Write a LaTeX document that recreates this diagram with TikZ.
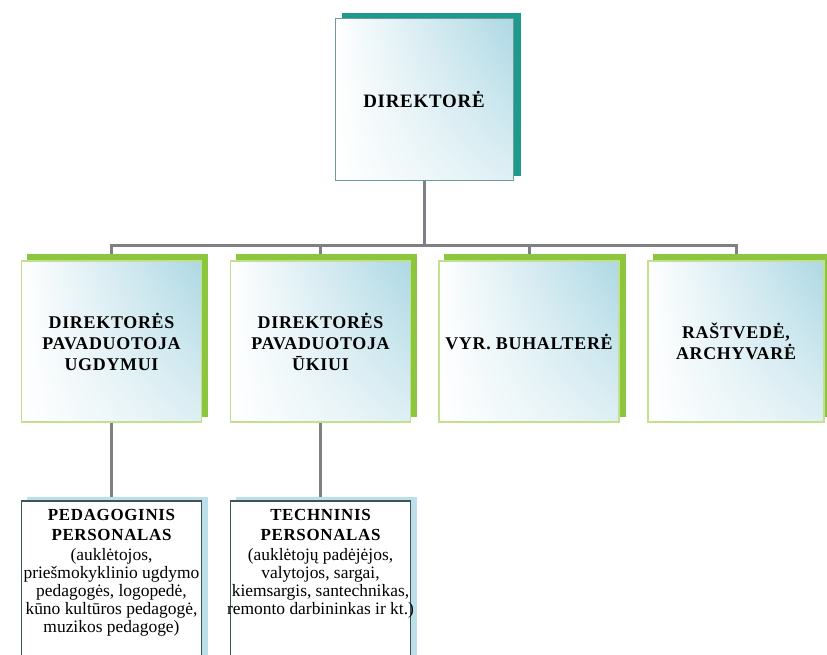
\documentclass[tikz,border=0pt]{standalone}
\usepackage{fontspec}
\setmainfont{Liberation Serif}
\newfontfamily\hdfont[LetterSpace=4]{Liberation Serif}
\usetikzlibrary{backgrounds,shadings}
\definecolor{tealsh}{HTML}{1E9A8C}
\definecolor{greensh}{HTML}{8CC63F}
\definecolor{greenborder}{HTML}{C3DF90}
\definecolor{blueshade}{HTML}{ADD8E4}
\definecolor{topborder}{HTML}{6E9C9C}
\definecolor{bluesh}{HTML}{BCDFEA}
\definecolor{lowborder}{HTML}{3E5558}
\definecolor{linegray}{HTML}{7F7F86}
\begin{document}
\begin{tikzpicture}[x=1bp,y=-1bp,
  conn/.style={draw=linegray, line width=3bp},
  gradbox/.style={rectangle, shade, upper left=white, upper right=blueshade,
    lower left=white, lower right=white!60!blueshade, inner sep=0, align=center,
    font=\hdfont\bfseries\fontsize{18}{21}\selectfont},
  topbox/.style={gradbox, draw=topborder, line width=1bp,
    minimum width=178bp, minimum height=161bp},
  midbox/.style={gradbox, draw=greenborder, line width=1.5bp,
    minimum width=180bp, minimum height=161bp},
  lowbox/.style={rectangle, draw=lowborder, fill=white, line width=1.5bp,
    minimum width=180bp, minimum height=190bp, inner sep=0},
  lowtext/.style={anchor=north, align=center, inner sep=0,
    font=\fontsize{17.5}{18}\selectfont}
]
\useasboundingbox (0,0) rectangle (827,655);
\clip (0,0) rectangle (827,655);

\node[topbox] (dir) at (424,99.5) {\fontsize{19}{21}\selectfont DIREKTORĖ};
\node[midbox] (b1) at (111.5,341.5) {DIREKTORĖS\\PAVADUOTOJA\\UGDYMUI};
\node[midbox] (b2) at (320.5,341.5) {DIREKTORĖS\\PAVADUOTOJA\\ŪKIUI};
\node[midbox] (b3) at (529,341.5) {VYR. BUHALTERĖ};
\node[midbox, minimum width=176bp] (b4) at (736,341.5) {RAŠTVEDĖ,\\ARCHYVARĖ};

\node[lowbox] (p1) at (111.5,596) {};
\node[lowbox] (p2) at (320.5,596) {};
\node[lowtext] (t1) at ([yshift=-9bp]p1.north)
  {{\hdfont\bfseries\fontsize{17}{20}\selectfont PEDAGOGINIS}\\[2bp]
   {\hdfont\bfseries\fontsize{17}{20}\selectfont PERSONALAS}\\[2bp]
   (auklėtojos,\\
   priešmokyklinio ugdymo\\
   pedagogės, logopedė,\\
   kūno kultūros pedagogė,\\
   muzikos pedagoge)};
\node[lowtext] (t2) at ([yshift=-9bp]p2.north)
  {{\hdfont\bfseries\fontsize{17}{20}\selectfont TECHNINIS}\\[2bp]
   {\hdfont\bfseries\fontsize{17}{20}\selectfont PERSONALAS}\\[2bp]
   (auklėtojų padėjėjos,\\
   valytojos, sargai,\\
   kiemsargis, santechnikas,\\
   remonto darbininkas ir kt.)};

\begin{scope}[on background layer]
  \fill[white] (0,0) rectangle (827,655);
  \coordinate (bus) at (424,245);
  \draw[conn] (dir.south) -- (bus);
  \draw[conn] (bus) -| (b1.north);
  \draw[conn] (bus) -| (b2.north);
  \draw[conn] (bus) -| (b3.north);
  \draw[conn] (bus) -| (b4.north);
  \draw[conn] (b1.south) -- (p1.north);
  \draw[conn] (b2.south) -- (p2.north);
  \fill[tealsh] ([shift={(7,-5)}]dir.south west) rectangle ([shift={(7,-5)}]dir.north east);
  \foreach \b in {b1,b2,b3,b4}
    \fill[greensh] ([shift={(6,-6)}]\b.south west) rectangle ([shift={(6,-6)}]\b.north east);
  \foreach \b in {p1,p2}
    \fill[bluesh] ([shift={(6,-3)}]\b.south west) rectangle ([shift={(6,-3)}]\b.north east);
\end{scope}
\end{tikzpicture}
\end{document}
